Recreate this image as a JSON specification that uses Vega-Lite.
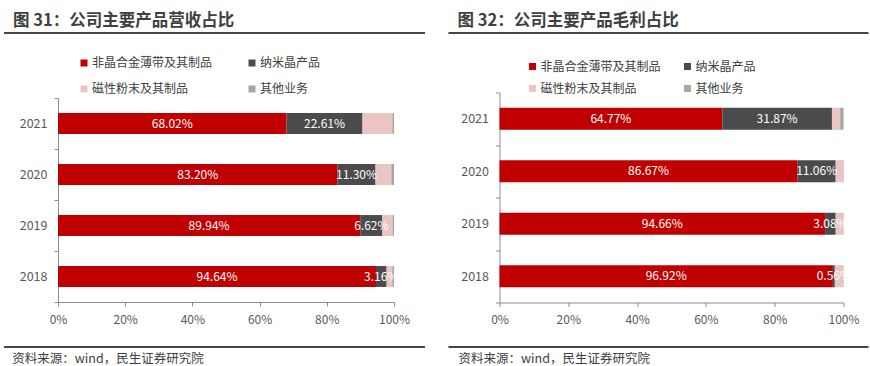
{
  "$schema": "https://vega.github.io/schema/vega-lite/v6.json",
  "background": "white",
  "padding": {"left": 3, "top": 12, "right": 0, "bottom": 0},
  "config": {
    "font": "Noto Sans CJK SC",
    "view": {"stroke": null},
    "axisX": {"domainColor": "#8c8c8c", "tickColor": "#8c8c8c", "tickSize": 4, "labelPadding": 8, "labelFontSize": 12, "labelColor": "#595959", "grid": false, "title": null, "labelFlush": false},
    "axisY": {"domainColor": "#8c8c8c", "tickColor": "#8c8c8c", "tickSize": 4, "labelPadding": 7, "labelFontSize": 12.5, "labelColor": "#595959", "grid": false, "title": null, "tickBand": "extent"}
  },
  "datasets": {
    "d": [
      {"c": "A", "year": "2021", "cat": "非晶合金薄带及其制品", "k": 1, "v": 0.6802},
      {"c": "A", "year": "2021", "cat": "纳米晶产品", "k": 2, "v": 0.2261},
      {"c": "A", "year": "2021", "cat": "磁性粉末及其制品", "k": 3, "v": 0.089},
      {"c": "A", "year": "2021", "cat": "其他业务", "k": 4, "v": 0.0047},
      {"c": "A", "year": "2020", "cat": "非晶合金薄带及其制品", "k": 1, "v": 0.832},
      {"c": "A", "year": "2020", "cat": "纳米晶产品", "k": 2, "v": 0.113},
      {"c": "A", "year": "2020", "cat": "磁性粉末及其制品", "k": 3, "v": 0.047},
      {"c": "A", "year": "2020", "cat": "其他业务", "k": 4, "v": 0.008},
      {"c": "A", "year": "2019", "cat": "非晶合金薄带及其制品", "k": 1, "v": 0.8994},
      {"c": "A", "year": "2019", "cat": "纳米晶产品", "k": 2, "v": 0.0662},
      {"c": "A", "year": "2019", "cat": "磁性粉末及其制品", "k": 3, "v": 0.03},
      {"c": "A", "year": "2019", "cat": "其他业务", "k": 4, "v": 0.0044},
      {"c": "A", "year": "2018", "cat": "非晶合金薄带及其制品", "k": 1, "v": 0.9464},
      {"c": "A", "year": "2018", "cat": "纳米晶产品", "k": 2, "v": 0.0316},
      {"c": "A", "year": "2018", "cat": "磁性粉末及其制品", "k": 3, "v": 0.017},
      {"c": "A", "year": "2018", "cat": "其他业务", "k": 4, "v": 0.005},
      {"c": "B", "year": "2021", "cat": "非晶合金薄带及其制品", "k": 1, "v": 0.6477},
      {"c": "B", "year": "2021", "cat": "纳米晶产品", "k": 2, "v": 0.3187},
      {"c": "B", "year": "2021", "cat": "磁性粉末及其制品", "k": 3, "v": 0.024},
      {"c": "B", "year": "2021", "cat": "其他业务", "k": 4, "v": 0.0096},
      {"c": "B", "year": "2020", "cat": "非晶合金薄带及其制品", "k": 1, "v": 0.8667},
      {"c": "B", "year": "2020", "cat": "纳米晶产品", "k": 2, "v": 0.1106},
      {"c": "B", "year": "2020", "cat": "磁性粉末及其制品", "k": 3, "v": 0.021},
      {"c": "B", "year": "2020", "cat": "其他业务", "k": 4, "v": 0.0017},
      {"c": "B", "year": "2019", "cat": "非晶合金薄带及其制品", "k": 1, "v": 0.9466},
      {"c": "B", "year": "2019", "cat": "纳米晶产品", "k": 2, "v": 0.0308},
      {"c": "B", "year": "2019", "cat": "磁性粉末及其制品", "k": 3, "v": 0.021},
      {"c": "B", "year": "2019", "cat": "其他业务", "k": 4, "v": 0.0016},
      {"c": "B", "year": "2018", "cat": "非晶合金薄带及其制品", "k": 1, "v": 0.9692},
      {"c": "B", "year": "2018", "cat": "纳米晶产品", "k": 2, "v": 0.0056},
      {"c": "B", "year": "2018", "cat": "磁性粉末及其制品", "k": 3, "v": 0.024},
      {"c": "B", "year": "2018", "cat": "其他业务", "k": 4, "v": 0.0012}
    ]
  },
  "bounds": "full",
  "spacing": 19.5,
  "resolve": {"scale": {"x": "independent", "y": "independent", "color": "independent"}, "legend": {"color": "independent"}},
  "hconcat": [
    {
      "bounds": "flush",
      "spacing": 45,
      "resolve": {"scale": {"x": "independent", "y": "independent", "color": "independent"}, "legend": {"color": "independent"}},
      "vconcat": [
        {
          "width": 336, "height": 20,
          "data": {"values": [{}]},
          "title": {"text": "图 31：公司主要产品营收占比", "anchor": "start", "frame": "group", "dx": -45, "offset": -10, "baseline": "alphabetic", "fontSize": 16.5, "fontWeight": "bold", "color": "#404040"},
          "mark": {"type": "rule", "strokeWidth": 2, "color": "#454545", "clip": false},
          "encoding": {
            "x": {"datum": -0.1607, "type": "quantitative", "scale": {"domain": [0, 1], "nice": false}, "axis": null},
            "x2": {"datum": 1.0923},
            "y": {"datum": 1, "type": "quantitative", "scale": {"domain": [0, 1], "nice": false}, "axis": null}
          }
        },
        {
          "width": 336, "height": 204,
          "data": {"name": "d"},
          "transform": [{"filter": "datum.c == 'A'"}],
          "encoding": {
            "y": {"field": "year", "type": "nominal", "sort": ["2021", "2020", "2019", "2018"], "scale": {"paddingInner": 0, "paddingOuter": 0}}
          },
          "layer": [
            {
              "mark": {"type": "bar", "height": {"band": 0.41}},
              "encoding": {
                "x": {"field": "v", "type": "quantitative", "stack": "zero", "scale": {"domain": [0, 1], "nice": false}, "axis": {"values": [0, 0.2, 0.4, 0.6, 0.8, 1], "format": ".0%"}},
                "color": {"field": "cat", "type": "nominal", "scale": {"domain": ["非晶合金薄带及其制品", "纳米晶产品", "磁性粉末及其制品", "其他业务"], "range": ["#C00000", "#4B4B4D", "#EBC4C4", "#A6A6A6"]},
                  "legend": {"orient": "none", "direction": "horizontal", "legendX": 20, "legendY": -41, "columns": 2, "columnPadding": 33, "rowPadding": 14, "symbolType": "square", "symbolSize": 49, "symbolStrokeWidth": 0, "labelFontSize": 12, "labelOffset": 2, "labelColor": "#404040", "title": null, "padding": 0}},
                "order": {"field": "k"}
              }
            },
            {
              "transform": [{"filter": "datum.k <= 2"}],
              "mark": {"type": "text", "color": "white", "fontSize": 12},
              "encoding": {
                "x": {"field": "v", "type": "quantitative", "stack": "zero", "bandPosition": 0.5},
                "detail": {"field": "cat"},
                "order": {"field": "k"},
                "text": {"field": "v", "format": ".2%"}
              }
            }
          ]
        },
        {
          "width": 336, "height": 24,
          "data": {"values": [{}]},
          "encoding": {
            "x": {"type": "quantitative", "scale": {"domain": [0, 1], "nice": false}, "axis": null},
            "y": {"type": "quantitative", "scale": {"domain": [0, 1], "nice": false}, "axis": null}
          },
          "layer": [
            {
              "mark": {"type": "rule", "strokeWidth": 2, "color": "#454545", "clip": false},
              "encoding": {"x": {"datum": -0.1607, "type": "quantitative"}, "x2": {"datum": 1.0923}, "y": {"datum": 1, "type": "quantitative"}}
            },
            {
              "mark": {"type": "text", "align": "left", "baseline": "middle", "fontSize": 12.5, "color": "#404040", "clip": false},
              "encoding": {"x": {"datum": -0.136, "type": "quantitative"}, "y": {"datum": 0.51, "type": "quantitative"}, "text": {"value": "资料来源：wind，民生证券研究院"}}
            }
          ]
        }
      ]
    },
    {
      "bounds": "flush",
      "spacing": 44.5,
      "resolve": {"scale": {"x": "independent", "y": "independent", "color": "independent"}, "legend": {"color": "independent"}},
      "vconcat": [
        {
          "width": 344, "height": 15,
          "data": {"values": [{}]},
          "title": {"text": "图 32：公司主要产品毛利占比", "anchor": "start", "frame": "group", "dx": -42, "offset": -10, "baseline": "alphabetic", "fontSize": 16.5, "fontWeight": "bold", "color": "#404040"},
          "mark": {"type": "rule", "strokeWidth": 2, "color": "#454545", "clip": false},
          "encoding": {
            "x": {"datum": -0.1483, "type": "quantitative", "scale": {"domain": [0, 1], "nice": false}, "axis": null},
            "x2": {"datum": 1.0727},
            "y": {"datum": 1, "type": "quantitative", "scale": {"domain": [0, 1], "nice": false}, "axis": null}
          }
        },
        {
          "width": 344, "height": 210,
          "data": {"name": "d"},
          "transform": [{"filter": "datum.c == 'B'"}],
          "encoding": {
            "y": {"field": "year", "type": "nominal", "sort": ["2021", "2020", "2019", "2018"], "scale": {"paddingInner": 0, "paddingOuter": 0}}
          },
          "layer": [
            {
              "mark": {"type": "bar", "height": {"band": 0.42}},
              "encoding": {
                "x": {"field": "v", "type": "quantitative", "stack": "zero", "scale": {"domain": [0, 1], "nice": false}, "axis": {"values": [0, 0.2, 0.4, 0.6, 0.8, 1], "format": ".0%"}},
                "color": {"field": "cat", "type": "nominal", "scale": {"domain": ["非晶合金薄带及其制品", "纳米晶产品", "磁性粉末及其制品", "其他业务"], "range": ["#C00000", "#4B4B4D", "#EBC4C4", "#A6A6A6"]},
                  "legend": {"orient": "none", "direction": "horizontal", "legendX": 27, "legendY": -32, "columns": 2, "columnPadding": 20, "rowPadding": 10, "symbolType": "square", "symbolSize": 49, "symbolStrokeWidth": 0, "labelFontSize": 12, "labelOffset": 2, "labelColor": "#404040", "title": null, "padding": 0}},
                "order": {"field": "k"}
              }
            },
            {
              "transform": [{"filter": "datum.k <= 2"}],
              "mark": {"type": "text", "color": "white", "fontSize": 12},
              "encoding": {
                "x": {"field": "v", "type": "quantitative", "stack": "zero", "bandPosition": 0.5},
                "detail": {"field": "cat"},
                "order": {"field": "k"},
                "text": {"field": "v", "format": ".2%"}
              }
            }
          ]
        },
        {
          "width": 344, "height": 24,
          "data": {"values": [{}]},
          "encoding": {
            "x": {"type": "quantitative", "scale": {"domain": [0, 1], "nice": false}, "axis": null},
            "y": {"type": "quantitative", "scale": {"domain": [0, 1], "nice": false}, "axis": null}
          },
          "layer": [
            {
              "mark": {"type": "rule", "strokeWidth": 2, "color": "#454545", "clip": false},
              "encoding": {"x": {"datum": -0.1483, "type": "quantitative"}, "x2": {"datum": 1.0727}, "y": {"datum": 1, "type": "quantitative"}}
            },
            {
              "mark": {"type": "text", "align": "left", "baseline": "middle", "fontSize": 12.5, "color": "#404040", "clip": false},
              "encoding": {"x": {"datum": -0.119, "type": "quantitative"}, "y": {"datum": 0.51, "type": "quantitative"}, "text": {"value": "资料来源：wind，民生证券研究院"}}
            }
          ]
        }
      ]
    }
  ]
}
